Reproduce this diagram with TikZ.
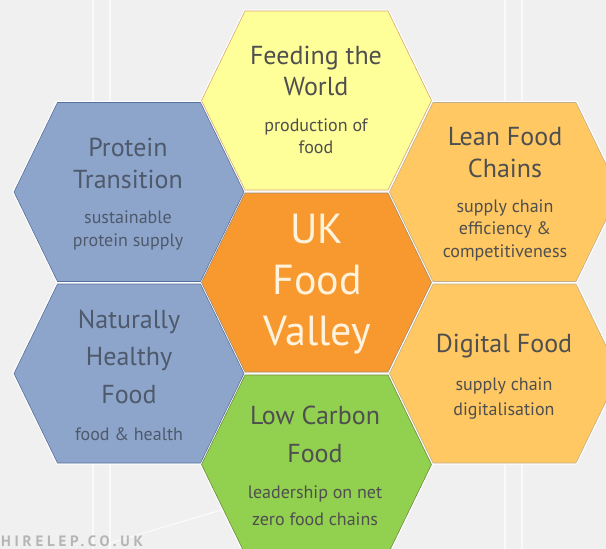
\documentclass[tikz,border=0pt]{standalone}
\usepackage{fontspec}
\setmainfont{PT Sans}
\definecolor{bggray}{HTML}{F0F0F0}
\definecolor{hexblue}{HTML}{8EA5CB}
\definecolor{edgeblue}{HTML}{56709D}
\definecolor{hexyellow}{HTML}{FFFF99}
\definecolor{edgeyellow}{HTML}{D8A56E}
\definecolor{hexorange}{HTML}{F8992F}
\definecolor{edgeorange}{HTML}{A08A70}
\definecolor{hexamber}{HTML}{FFC862}
\definecolor{edgeamber}{HTML}{BFAF8F}
\definecolor{hexgreen}{HTML}{92D050}
\definecolor{edgegreen}{HTML}{6F8A3C}
\definecolor{txtgray}{HTML}{4F4F4F}
\definecolor{txtblue}{HTML}{4E596B}
\definecolor{txtcream}{HTML}{FFF3DE}
\definecolor{markgray}{HTML}{B5B5B5}
\tikzset{
  hexcell/.style={line width=0.6pt, line join=miter},
  hexgap/.style={draw=white, line width=3pt, line join=miter},
  htitle/.style={align=center, anchor=base, text=txtgray, font=\fontsize{26}{#1}\selectfont},
  htitle/.default=32,
  hsub/.style={align=center, anchor=base, text=txtgray, font=\fontsize{18}{#1}\selectfont},
  hsub/.default=22.5,
}
\newcommand{\hexshape}{(-115,0) -- (-71.5,-89.5) -- (71.5,-89.5) -- (115,0) -- (71.5,89.5) -- (-71.5,89.5) -- cycle}
\begin{document}
\begin{tikzpicture}[x=1pt,y=-1pt]
\useasboundingbox (0,0) rectangle (606,549);
\clip (0,0) rectangle (606,549);
\fill[bggray] (0,0) rectangle (606,549);
\foreach \sx in {93,110,505,522}
  \draw[white, line width=2pt, opacity=.6] (\sx,0) -- (\sx,549);
\draw[white, line width=1pt, opacity=.8] (100,546) -- (228,508);
\node[anchor=base west, inner sep=0pt, text=markgray, font=\fontsize{15}{15}\selectfont\bfseries\addfontfeatures{LetterSpace=25}] (mark) at (1,546.5) {HIRELEP.CO.UK};
\foreach \nm/\cx/\cy/\fc/\dc in {feed/316.5/100.5/hexyellow/edgeyellow,
    valley/316.5/282.5/hexorange/edgeorange, low/316.5/464.5/hexgreen/edgegreen,
    prot/129/192/hexblue/edgeblue, nat/129/373.5/hexblue/edgeblue,
    lean/504.5/192/hexamber/edgeamber, dig/504.5/373.5/hexamber/edgeamber}
  \draw[hexgap, shift={(\cx,\cy)}] \hexshape;
\foreach \nm/\cx/\cy/\fc/\dc in {feed/316.5/100.5/hexyellow/edgeyellow,
    valley/316.5/282.5/hexorange/edgeorange, low/316.5/464.5/hexgreen/edgegreen,
    prot/129/192/hexblue/edgeblue, nat/129/373.5/hexblue/edgeblue,
    lean/504.5/192/hexamber/edgeamber, dig/504.5/373.5/hexamber/edgeamber}{
  \filldraw[hexcell, fill=\fc, draw=\dc, shift={(\cx,\cy)}] \hexshape;
  \coordinate (\nm) at (\cx,\cy);
}
\node[htitle=31] (feed-t) at (316,95) {Feeding the\\World};
\node[hsub=22] (feed-s) at (316,153) {production of\\food};
\node[htitle, text=txtblue] (prot-t) at (128,188) {Protein\\Transition};
\node[hsub, text=txtblue] (prot-s) at (128,246) {sustainable\\protein supply};
\node[htitle] (lean-t) at (505,177) {Lean Food\\Chains};
\node[hsub] (lean-s) at (505,257) {supply chain\\efficiency \&\\competitiveness};
\node[align=center, anchor=base, text=txtcream, font=\fontsize{42}{51}\selectfont] (valley-t) at (317,345) {UK\\Food\\Valley};
\node[htitle=37.5, text=txtblue] (nat-t) at (129,403) {Naturally\\Healthy\\Food};
\node[hsub, text=txtblue] (nat-s) at (129,440) {food \& health};
\node[htitle] (dig-t) at (504,352) {Digital Food};
\node[hsub=25] (dig-s) at (504,415) {supply chain\\digitalisation};
\node[htitle=38] (low-t) at (315,462) {Low Carbon\\Food};
\node[hsub=27] (low-s) at (315,525) {leadership on net\\zero food chains};
\end{tikzpicture}
\end{document}
